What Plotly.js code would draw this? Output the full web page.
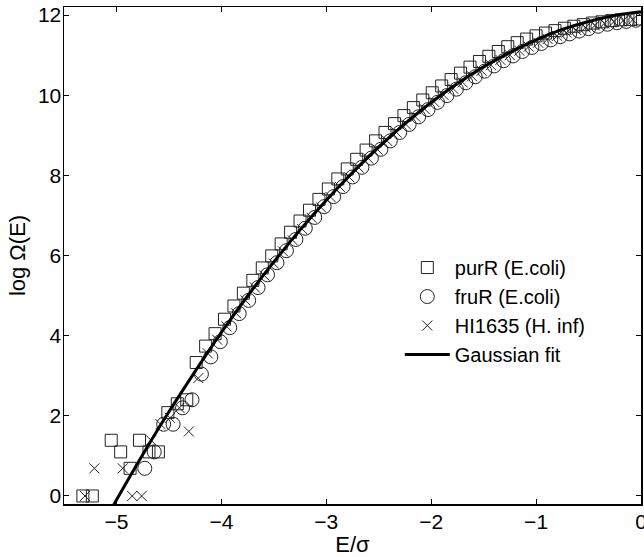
<!DOCTYPE html>
<html>
<head>
<meta charset="utf-8">
<script src="https://cdn.plot.ly/plotly-3.0.1.min.js"></script>
<style>html,body{margin:0;padding:0;background:#fff;}#chart{width:644px;height:557px;}</style>
</head>
<body>
<div id="chart"></div>
<script>
// purR (E.coli) — squares
const purR_E = [-5.32,-5.23,-5.05,-4.96,-4.87,-4.78,-4.69,-4.60,-4.51,-4.42,-4.33,-4.24,-4.15,-4.06,
  -3.97,-3.88,-3.79,-3.70,-3.61,-3.52,-3.43,-3.34,-3.25,-3.16,-3.07,-2.98,-2.89,-2.80,-2.71,-2.62,
  -2.53,-2.44,-2.35,-2.26,-2.17,-2.08,-1.99,-1.90,-1.81,-1.72,-1.63,-1.54,-1.45,-1.36,-1.27,-1.18,
  -1.09,-1.00,-0.91,-0.82,-0.73,-0.64,-0.55,-0.46,-0.37,-0.28,-0.19,-0.10,-0.01];
const purR_logOmega = [0,0,1.39,1.10,0.69,1.39,1.10,1.10,2.08,2.30,2.40,3.33,3.74,4.05,
  4.41,4.74,5.06,5.38,5.69,5.99,6.29,6.58,6.86,7.13,7.40,7.66,7.91,8.16,8.40,8.63,
  8.86,9.07,9.29,9.49,9.69,9.88,10.06,10.23,10.39,10.55,10.70,10.84,10.97,11.09,11.21,11.31,
  11.40,11.48,11.55,11.61,11.67,11.72,11.76,11.80,11.83,11.86,11.88,11.89,11.90];

// fruR (E.coli) — circles
const fruR_E = [-4.73,-4.64,-4.55,-4.46,-4.37,-4.28,-4.19,-4.10,
  -4.01,-3.92,-3.83,-3.74,-3.65,-3.56,-3.47,-3.38,-3.29,-3.20,-3.11,-3.02,-2.93,-2.84,-2.75,-2.66,
  -2.57,-2.48,-2.39,-2.30,-2.21,-2.12,-2.03,-1.94,-1.85,-1.76,-1.67,-1.58,-1.49,-1.40,-1.31,-1.22,
  -1.13,-1.04,-0.95,-0.86,-0.77,-0.68,-0.59,-0.50,-0.41,-0.32,-0.23,-0.14,-0.05];
const fruR_logOmega = [0.69,1.10,1.79,1.79,2.20,2.40,3.04,3.47,
  3.85,4.20,4.55,4.88,5.20,5.52,5.82,6.12,6.40,6.68,6.95,7.22,7.47,7.72,7.96,8.20,
  8.43,8.65,8.86,9.07,9.27,9.46,9.64,9.82,9.99,10.15,10.31,10.46,10.60,10.73,10.86,10.98,
  11.09,11.19,11.29,11.38,11.46,11.53,11.60,11.66,11.72,11.77,11.81,11.84,11.87];

// HI1635 (H. inf) — crosses
const hi_E = [-5.30,-5.21,-4.94,-4.85,-4.76,-4.67,-4.58,-4.49,-4.40,-4.31,-4.22,-4.13,
  -4.04,-3.95,-3.86,-3.77,-3.68,-3.59,-3.50,-3.41,-3.32,-3.23,-3.14,-3.05,-2.96,-2.87,-2.78,-2.69,
  -2.60,-2.51,-2.42,-2.33,-2.24,-2.15,-2.06,-1.97,-1.88,-1.79,-1.70,-1.61,-1.52,-1.43,-1.34,-1.25,
  -1.16,-1.07,-0.98,-0.89,-0.80,-0.71,-0.62,-0.53,-0.44,-0.35,-0.26,-0.17,-0.08];
const hi_logOmega = [0,0.69,0.69,0,0,1.39,1.79,1.95,2.20,1.61,2.94,3.56,
  3.90,4.23,4.56,4.88,5.20,5.50,5.80,6.10,6.38,6.66,6.94,7.20,7.46,7.71,7.95,8.19,
  8.42,8.64,8.86,9.07,9.27,9.46,9.65,9.83,10.00,10.16,10.32,10.47,10.61,10.75,10.88,11.00,
  11.11,11.21,11.31,11.40,11.48,11.56,11.63,11.69,11.74,11.79,11.83,11.86,11.88];

// Gaussian fit — curve
const fit_E = [-5.25,-5.0,-4.75,-4.5,-4.25,-4.0,-3.75,-3.5,-3.25,-3.0,-2.75,-2.5,-2.25,-2.0,
  -1.75,-1.5,-1.25,-1.0,-0.75,-0.5,-0.25,0];
const fit_logOmega = [-1.28,-0.10,1.03,2.10,3.11,4.08,4.99,5.84,6.64,7.38,8.07,8.71,9.29,9.82,
  10.29,10.71,11.07,11.38,11.64,11.84,11.99,12.08];

const xTicks = [-5,-4,-3,-2,-1,0];
const yTicks = [0,2,4,6,8,10,12];

const FONT = 'Liberation Sans, Arial, Helvetica, sans-serif';
const mk = '#222';

const traces = [
  {x: purR_E, y: purR_logOmega, name: 'purR (E.coli)', type: 'scatter', mode: 'markers',
   marker: {symbol: 'square-open', size: 12, color: mk, line: {width: 1, color: mk}}},
  {x: fruR_E, y: fruR_logOmega, name: 'fruR (E.coli)', type: 'scatter', mode: 'markers',
   marker: {symbol: 'circle-open', size: 14, color: mk, line: {width: 1, color: mk}}},
  {x: hi_E, y: hi_logOmega, name: 'HI1635 (H. inf)', type: 'scatter', mode: 'markers',
   marker: {symbol: 'x-thin-open', size: 10, color: mk, line: {width: 1, color: mk}}},
  {x: fit_E, y: fit_logOmega, name: 'Gaussian fit', type: 'scatter', mode: 'lines',
   line: {color: '#000', width: 3, shape: 'spline'}}
];

const axisCommon = {
  showgrid: false, zeroline: false, showline: true, linecolor: '#000', linewidth: 1.5,
  mirror: 'ticks', ticks: 'inside', ticklen: 5, tickwidth: 1, tickcolor: '#000',
  tickfont: {family: FONT, size: 21, color: '#000'}, automargin: false,
  ticklabeloverflow: 'allow'
};

const layout = {
  width: 644, height: 557,
  margin: {l: 64, r: 3, t: 7, b: 53},
  paper_bgcolor: '#fff', plot_bgcolor: '#fff',
  font: {family: FONT, color: '#000'},
  showlegend: true,
  legend: {x: 0.582, y: 0.515, xanchor: 'left', yanchor: 'top', bgcolor: 'rgba(0,0,0,0)',
           font: {family: FONT, size: 20, color: '#000'}, tracegroupgap: 0, itemwidth: 45},
  xaxis: Object.assign({}, axisCommon, {
    range: [-5.5, 0], tickvals: xTicks, ticktext: xTicks.map(v => v < 0 ? '\u2212' + Math.abs(v) : String(v)),
    ticklabelstandoff: -2,
    title: {text: 'E/\u03c3', font: {family: FONT, size: 22, color: '#000'}, standoff: 4}
  }),
  yaxis: Object.assign({}, axisCommon, {
    range: [-0.2, 12.2], tickvals: yTicks, ticklabelstandoff: -3,
    title: {text: 'log \u03a9(E)', font: {family: FONT, size: 22, color: '#000'}, standoff: 6}
  })
};

Plotly.newPlot('chart', traces, layout, {displayModeBar: false, staticPlot: true});
</script>
</body>
</html>
